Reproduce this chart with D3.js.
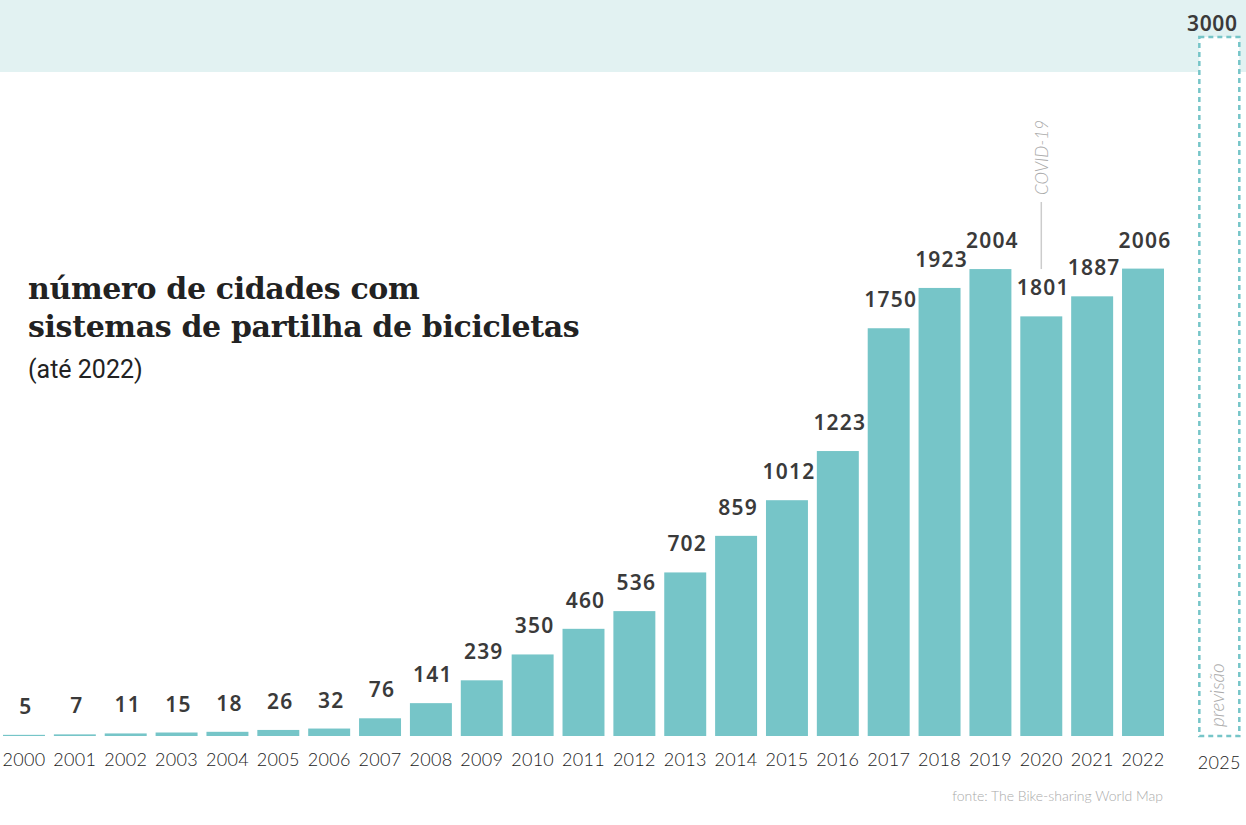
<!DOCTYPE html>
<html>
<head>
<meta charset="utf-8">
<script src="https://cdn.jsdelivr.net/npm/d3@7"></script>
<style>
  body { margin: 0; background: #fff; }
  svg { display: block; }
</style>
</head>
<body>
<div id="chart"></div>
<script>
// dados
const years = [2000, 2001, 2002, 2003, 2004, 2005, 2006, 2007, 2008, 2009, 2010, 2011,
  2012, 2013, 2014, 2015, 2016, 2017, 2018, 2019, 2020, 2021, 2022];
const cities = [5, 7, 11, 15, 18, 26, 32, 76, 141, 239, 350, 460,
  536, 702, 859, 1012, 1223, 1750, 1923, 2004, 1801, 1887, 2006];
const forecastYear = 2025;
const forecastValue = 3000;

const width = 1246;
const height = 825;
const baseline = 736;

const svg = d3.select("#chart")
  .append("svg")
  .attr("width", width)
  .attr("height", height);

// faixa de topo
svg.append("rect")
  .attr("x", 0).attr("y", 0)
  .attr("width", width).attr("height", 72)
  .attr("fill", "#e2f2f2");

// escalas
const x = d3.scaleBand()
  .domain(years)
  .range([3, 1164])
  .paddingInner(0.175)
  .paddingOuter(0);

const y = d3.scaleLinear()
  .domain([0, forecastValue])
  .range([baseline, 37]);

const xForecast = x(2022) + x.step() * 1.5;

// barras
svg.selectAll(".bar")
  .data(years)
  .enter()
  .append("rect")
  .attr("class", "bar")
  .attr("x", d => x(d))
  .attr("y", (d, i) => y(cities[i]))
  .attr("width", x.bandwidth())
  .attr("height", (d, i) => baseline - y(cities[i]))
  .attr("fill", "#76c5c8");

// valores
svg.selectAll(".val")
  .data(years)
  .enter()
  .append("text")
  .attr("class", "val")
  .attr("x", d => x(d) + x.bandwidth() / 2 + 2)
  .attr("y", (d, i) => y(cities[i]) - 21)
  .attr("text-anchor", "middle")
  .attr("font-family", "'Noto Sans', sans-serif")
  .attr("font-weight", 600)
  .attr("font-size", 21)
  .attr("letter-spacing", 1.2)
  .attr("fill", "#3a3a3a")
  .text((d, i) => cities[i]);

// previsão
svg.append("rect")
  .attr("x", xForecast + 1)
  .attr("y", y(forecastValue))
  .attr("width", x.bandwidth() - 2)
  .attr("height", baseline - y(forecastValue))
  .attr("fill", "#fff")
  .attr("stroke", "#76c5c8")
  .attr("stroke-width", 2.5)
  .attr("stroke-dasharray", "5,4");

svg.append("text")
  .attr("x", xForecast + x.bandwidth() / 2 - 7)
  .attr("y", y(forecastValue) - 6)
  .attr("text-anchor", "middle")
  .attr("font-family", "'Noto Sans', sans-serif")
  .attr("font-weight", 600)
  .attr("font-size", 21)
  .attr("letter-spacing", 0.6)
  .attr("fill", "#3a3a3a")
  .text(forecastValue);

svg.append("text")
  .attr("transform", `translate(${xForecast + x.bandwidth() / 2 + 5}, 727) rotate(-90)`)
  .attr("font-family", "Lato, sans-serif")
  .attr("font-style", "italic")
  .attr("font-weight", 300)
  .attr("font-size", 19)
  .attr("fill", "#aaa")
  .text("previsão");

// eixo x
const axis = svg.append("g")
  .attr("transform", `translate(0, ${baseline})`)
  .call(d3.axisBottom(x).tickSize(0).tickPadding(17));
axis.select(".domain").remove();
axis.selectAll("text")
  .attr("font-family", "Lato, sans-serif")
  .attr("font-weight", 300)
  .attr("font-size", 18)
  .attr("letter-spacing", 0.3)
  .attr("fill", "#1a1a1a");

svg.append("text")
  .attr("x", xForecast + x.bandwidth() / 2)
  .attr("y", 769)
  .attr("text-anchor", "middle")
  .attr("font-family", "Lato, sans-serif")
  .attr("font-weight", 300)
  .attr("font-size", 18)
  .attr("letter-spacing", 0.3)
  .attr("fill", "#1a1a1a")
  .text(forecastYear);

// COVID-19
const xCovid = x(2020) + x.bandwidth() / 2;
svg.append("line")
  .attr("x1", xCovid).attr("x2", xCovid)
  .attr("y1", 202).attr("y2", y(2004))
  .attr("stroke", "#ccc")
  .attr("stroke-width", 1.5);

svg.append("text")
  .attr("transform", `translate(${xCovid + 7}, 195) rotate(-90)`)
  .attr("font-family", "Lato, sans-serif")
  .attr("font-style", "italic")
  .attr("font-weight", 300)
  .attr("font-size", 17)
  .attr("fill", "#aaa")
  .text("COVID-19");

// título
svg.append("text")
  .attr("x", 28).attr("y", 299)
  .attr("font-family", "'DejaVu Serif', serif")
  .attr("font-weight", 700)
  .attr("font-size", 30)
  .attr("letter-spacing", -0.35)
  .attr("fill", "#222")
  .text("número de cidades com");

svg.append("text")
  .attr("x", 28).attr("y", 337)
  .attr("font-family", "'DejaVu Serif', serif")
  .attr("font-weight", 700)
  .attr("font-size", 30)
  .attr("letter-spacing", -0.35)
  .attr("fill", "#222")
  .text("sistemas de partilha de bicicletas");

svg.append("text")
  .attr("x", 28).attr("y", 378)
  .attr("font-family", "Roboto, sans-serif")
  .attr("font-size", 25)
  .attr("fill", "#222")
  .text("(até 2022)");

// fonte
svg.append("text")
  .attr("x", 1163).attr("y", 801)
  .attr("text-anchor", "end")
  .attr("font-family", "Lato, sans-serif")
  .attr("font-weight", 300)
  .attr("font-size", 14)
  .attr("fill", "#aaa")
  .text("fonte: The Bike-sharing World Map");
</script>
</body>
</html>
